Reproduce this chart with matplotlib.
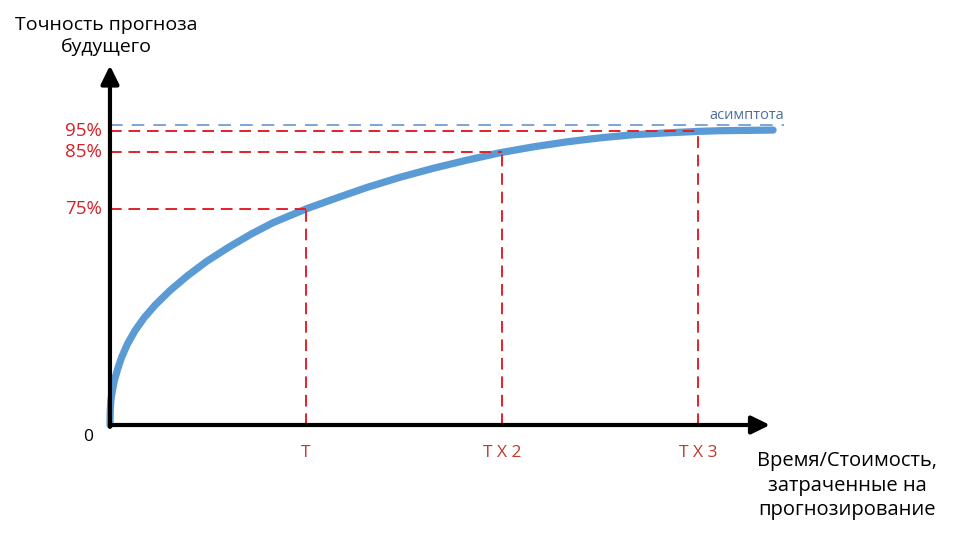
import matplotlib
matplotlib.use('Agg')
import matplotlib.pyplot as plt

plt.rcParams['font.family'] = ['Open Sans', 'DejaVu Sans']

# curve (x in units of T, y in chart height units)
curve_x = [0.000, 0.0015, 0.005, 0.012, 0.022, 0.039, 0.060, 0.090, 0.128, 0.175,
           0.230, 0.306, 0.396, 0.493, 0.604, 0.723, 0.833, 1.004, 1.173, 1.310,
           1.480, 1.650, 1.820, 1.990, 2.160, 2.330, 2.500, 2.670, 2.840, 3.010,
           3.112, 3.383]
curve_y = [0.0, 4.8, 8.1, 10.9, 14.2, 18.0, 21.9, 26.2, 30.4, 34.6,
           38.6, 43.3, 48.1, 52.7, 57.2, 61.6, 65.2, 69.7, 73.5, 76.5,
           79.8, 82.7, 85.3, 87.7, 89.6, 91.2, 92.5, 93.5, 94.1, 94.6,
           94.8, 95.0]

# marked points
mark_x = [1, 2, 3]
mark_y = [69.7, 87.8, 94.7]
level_labels = ['75%', '85%', '95%']
time_labels = ['T', 'T X 2', 'T X 3']

asymptote_y = 96.6

fig = plt.figure(figsize=(9.56, 5.38), dpi=100)
ax = fig.add_axes([0, 0, 1, 1])
ax.set_xlim(-0.561, 4.316)
ax.set_ylim(-36.4, 136.9)
ax.axis('off')

red = '#e3202a'

# asymptote
ax.plot([0, 3.44], [asymptote_y, asymptote_y], color='#6f9fd8', lw=1.3,
        dashes=(7, 5))
ax.text(3.25, asymptote_y + 0.8, 'асимптота', color='#4d6f9e', fontsize=10.5,
        ha='center', va='bottom')

# curve
ax.plot(curve_x, curve_y, color='#5b9bd5', lw=5.2, solid_capstyle='round',
        solid_joinstyle='round')

# guide lines and labels
for x, y, lab, tl in zip(mark_x, mark_y, level_labels, time_labels):
    ax.plot([0, x], [y, y], color=red, lw=1.4, dashes=(6, 3.5))
    ax.plot([x, x], [0, y], color=red, lw=1.4, dashes=(6, 3.5))
    ax.text(-0.04, y, lab, color='#d42027', fontsize=13.5, ha='right', va='center')
    ax.text(x, -9.0, tl, color='#c0392b', fontsize=12.5, ha='center', va='center')

# axes with arrows
arrow = '-|>,head_length=0.55,head_width=0.27'
ax.annotate('', xy=(3.367, 0), xytext=(0, 0),
            arrowprops=dict(arrowstyle=arrow, lw=3, color='black',
                            mutation_scale=20, shrinkA=0, shrinkB=0))
ax.annotate('', xy=(0, 115.8), xytext=(0, -0.6),
            arrowprops=dict(arrowstyle=arrow, lw=3, color='black',
                            mutation_scale=20, shrinkA=0, shrinkB=0))

ax.text(-0.112, -3.9, '0', fontsize=12.5, ha='center', va='center')
ax.text(-0.02, 125.3, 'Точность прогноза\nбудущего', fontsize=14,
        ha='center', va='center', linespacing=1.25)
ax.text(3.760, -19.6, 'Время/Стоимость,\nзатраченные на\nпрогнозирование',
        fontsize=14.5, ha='center', va='center', linespacing=1.3)

fig.savefig('out.png', dpi=100)
